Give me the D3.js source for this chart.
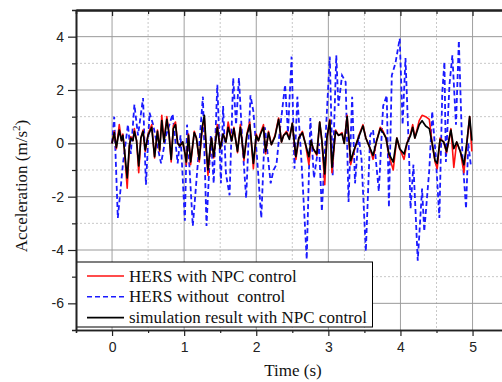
<!DOCTYPE html>
<html>
<head>
<meta charset="utf-8">
<script src="https://cdn.jsdelivr.net/npm/d3@7"></script>
<style>
    body { margin: 0; background: #fff; }
    svg { display: block; }
    .tick text { font-family: "Liberation Sans", Arial, sans-serif; font-size: 14px; fill: #222; }
    .serif { font-family: "Liberation Serif", "Times New Roman", serif; fill: #111; white-space: pre; }
</style>
</head>
<body>
<div class="chart"></div>
<script>

// HERS without control (blue dashed) - [time s, acceleration m/s2]
const blueData = [
    [0, 0], [0.03, 1.0], [0.08, -2.8], [0.15, -0.8], [0.22, 0.7], [0.26, -0.4], [0.31, 1.45],
    [0.36, 0.3], [0.43, 1.7], [0.47, -1.55], [0.52, 1.15], [0.57, 0.7], [0.62, 0.0], [0.68, -0.75],
    [0.75, 0.3], [0.84, 1.1], [0.91, -0.75], [0.95, 0.3], [1.01, -2.9], [1.04, 0.7], [1.12, -3.1],
    [1.2, -0.4], [1.26, 1.75], [1.31, -3.1], [1.37, 0.3], [1.41, -1.5], [1.46, 2.2], [1.51, -1.5],
    [1.54, 1.4], [1.58, -1.15], [1.63, -1.95], [1.68, 2.45], [1.72, 0.7], [1.76, 2.45], [1.81, -0.1],
    [1.86, -2.05], [1.92, 1.8], [1.96, 1.2], [2.01, -0.5], [2.07, -2.8], [2.12, 0.6], [2.2, -1.5],
    [2.24, -1.0], [2.28, -0.8], [2.32, 0.3], [2.4, 2.2], [2.44, 0.4], [2.49, 3.25], [2.53, -0.95],
    [2.57, 1.75], [2.63, -0.8], [2.7, -4.35], [2.75, 0.95], [2.8, -1.3], [2.87, 0.0], [2.91, -2.55],
    [2.98, 1.2], [3.02, 3.25], [3.06, -1.2], [3.11, 3.3], [3.14, 1.4], [3.19, 2.55], [3.24, 2.3],
    [3.28, -2.2], [3.33, 1.75], [3.37, -1.5], [3.42, 0.3], [3.46, -0.6], [3.52, -4.05], [3.58, 0.3],
    [3.62, 0.5], [3.7, -1.8], [3.76, 1.4], [3.81, 1.8], [3.84, -2.4], [3.88, 2.55], [3.93, 3.0],
    [3.99, 3.93], [4.03, 0.7], [4.07, 3.2], [4.12, -0.5], [4.14, -2.45], [4.18, -0.8], [4.24, -4.4],
    [4.3, -1.7], [4.33, -3.3], [4.4, -1.0], [4.44, 1.2], [4.49, -0.5], [4.54, -2.8], [4.58, 1.9],
    [4.61, 3.05], [4.63, -0.7], [4.68, 2.2], [4.72, 3.3], [4.77, 0.7], [4.81, 3.85], [4.86, -0.5],
    [4.91, -2.45], [4.94, 0.0], [4.98, -0.9]
]

// HERS with NPC control (red)
const redData = [
    [0, 0], [0.03, 0.45], [0.06, -0.2], [0.1, 0.7], [0.13, 0.1], [0.15, 0.35], [0.17, -0.2],
    [0.21, -1.68], [0.24, -0.1], [0.26, 0.25], [0.29, 0.1], [0.31, 0.55], [0.34, 0.1], [0.37, -1.1],
    [0.4, 0.2], [0.43, 0.5], [0.46, -0.3], [0.5, 0.35], [0.55, 0.7], [0.59, -0.55], [0.63, 0.5],
    [0.66, -0.3], [0.69, 1.05], [0.72, 0.05], [0.76, 1.0], [0.79, 0.4], [0.82, -0.7], [0.85, 0.65],
    [0.88, 0.8], [0.91, 0.0], [0.94, -0.1], [0.98, 0.05], [1.01, -0.35], [1.03, -0.8], [1.06, 0.35],
    [1.09, -0.8], [1.14, 0.45], [1.17, 0.2], [1.21, -0.7], [1.25, 0.55], [1.28, 0.95], [1.31, -0.4],
    [1.33, -1.2], [1.36, -0.2], [1.38, 0.2], [1.41, -0.55], [1.46, 0.7], [1.5, -0.2], [1.54, 0.35],
    [1.58, 0.05], [1.61, 0.8], [1.66, 0.1], [1.69, 0.6], [1.74, -0.35], [1.78, 0.7], [1.83, -0.65],
    [1.87, 0.35], [1.91, 0.8], [1.96, -0.95], [2.0, 0.35], [2.03, 0.1], [2.06, 0.4], [2.1, 0.7],
    [2.13, -0.4], [2.17, 0.45], [2.21, -0.05], [2.26, 0.3], [2.31, 0.95], [2.35, 0.05], [2.38, 0.3],
    [2.42, 0.45], [2.46, 0.2], [2.5, 0.75], [2.55, -0.6], [2.59, 0.2], [2.64, 0.45], [2.68, 0.0],
    [2.73, -0.8], [2.76, 0.1], [2.79, -0.2], [2.84, -0.45], [2.88, 0.8], [2.91, 0.1], [2.95, -1.55],
    [2.98, 0.2], [3.02, 0.9], [3.05, -1.1], [3.1, 0.5], [3.14, 0.3], [3.19, 0.4], [3.22, 0.0],
    [3.26, 1.05], [3.31, -0.8], [3.35, -0.35], [3.39, 0.0], [3.43, 0.35], [3.48, 0.7], [3.52, 0.2],
    [3.58, -0.2], [3.62, -0.6], [3.67, 0.1], [3.72, 0.6], [3.76, 0.45], [3.8, 0.2], [3.84, -0.45],
    [3.9, -1.0], [3.95, 0.2], [3.99, -0.2], [4.05, -0.6], [4.09, 0.0], [4.14, 0.35], [4.17, 0.7],
    [4.2, 0.2], [4.26, 0.85], [4.3, 1.05], [4.35, 1.0], [4.4, 0.9], [4.44, 0.0], [4.48, -0.7],
    [4.51, -0.95], [4.55, 0.2], [4.6, 0.05], [4.64, -0.35], [4.7, 0.55], [4.74, -0.9], [4.78, 0.05],
    [4.83, -0.3], [4.88, -1.1], [4.92, 0.0], [4.96, 1.0], [4.99, -0.3]
]

// simulation result with NPC control (black)
const blackData = [
    [0, 0], [0.03, 0.4], [0.06, -0.15], [0.1, 0.5], [0.13, 0.1], [0.15, 0.3], [0.17, -0.2],
    [0.21, -1.3], [0.24, -0.1], [0.26, 0.2], [0.29, 0.1], [0.31, 0.45], [0.34, 0.1], [0.37, -0.85],
    [0.4, 0.2], [0.43, 0.45], [0.46, -0.25], [0.5, 0.3], [0.55, 0.6], [0.59, -0.5], [0.63, 0.45],
    [0.66, -0.25], [0.69, 0.85], [0.72, 0.05], [0.76, 0.9], [0.79, 0.35], [0.82, -0.6], [0.85, 0.55],
    [0.88, 0.7], [0.91, 0.0], [0.94, -0.1], [0.98, 0.05], [1.01, -0.35], [1.03, -0.7], [1.06, 0.3],
    [1.09, -0.7], [1.14, 0.4], [1.17, 0.2], [1.21, -0.6], [1.25, 0.6], [1.28, 1.05], [1.31, -0.3],
    [1.33, -1.0], [1.36, -0.2], [1.38, 0.2], [1.41, -0.5], [1.46, 0.6], [1.5, -0.2], [1.54, 0.35],
    [1.58, 0.05], [1.61, 0.6], [1.66, 0.1], [1.69, 0.55], [1.74, -0.3], [1.78, 0.6], [1.83, -0.55],
    [1.87, 0.3], [1.91, 0.7], [1.96, -0.75], [2.0, 0.3], [2.03, 0.1], [2.06, 0.35], [2.1, 0.6],
    [2.13, -0.3], [2.17, 0.4], [2.21, -0.05], [2.26, 0.25], [2.31, 0.9], [2.35, 0.05], [2.38, 0.3],
    [2.42, 0.4], [2.46, 0.15], [2.5, 0.75], [2.55, -0.5], [2.59, 0.2], [2.64, 0.4], [2.68, 0.0],
    [2.73, -0.5], [2.76, 0.1], [2.79, -0.2], [2.84, -0.4], [2.88, 0.8], [2.91, 0.1], [2.95, -1.15],
    [2.98, 0.2], [3.02, 0.85], [3.05, -0.9], [3.1, 0.45], [3.14, 0.3], [3.19, 0.35], [3.22, 0.0],
    [3.26, 1.0], [3.31, -0.65], [3.35, -0.3], [3.39, 0.0], [3.43, 0.3], [3.48, 0.65], [3.52, 0.2],
    [3.58, -0.2], [3.62, -0.45], [3.67, 0.1], [3.72, 0.55], [3.76, 0.4], [3.8, 0.2], [3.84, -0.4],
    [3.9, -0.7], [3.95, 0.2], [3.99, -0.2], [4.05, -0.4], [4.09, 0.0], [4.14, 0.3], [4.17, 0.6],
    [4.2, 0.2], [4.26, 0.7], [4.3, 0.85], [4.35, 0.65], [4.4, 0.55], [4.44, 0.0], [4.48, -0.65],
    [4.51, -0.75], [4.55, 0.15], [4.6, 0.05], [4.64, -0.3], [4.7, 0.5], [4.74, -0.2], [4.78, 0.05],
    [4.83, -0.3], [4.88, -0.8], [4.92, 0.0], [4.96, 1.0], [4.99, 0.1]
]

const xMajor = [0, 1, 2, 3, 4, 5]
const xMinor = [0.5, 1.5, 2.5, 3.5, 4.5]
const yMajor = [-6, -4, -2, 0, 2, 4]
const yMinor = [-5, -3, -1, 1, 3]

const legendLabels = ["HERS with NPC control", "HERS without  control", "simulation result with NPC control"]


function drawChart() {

    const width = 502
    const height = 382

    const svg = d3.select(".chart")
        .append("svg")
        .attr("width", width)
        .attr("height", height)

    const x = d3.scaleLinear([-0.5, 5.5], [76, 508.6])
    const y = d3.scaleLinear([-7, 5], [330, 10])

    // grid
    const grid = svg.append("g")

    grid.selectAll(".xminor")
        .data(xMinor)
        .join("line")
        .attr("x1", d => x(d)).attr("x2", d => x(d))
        .attr("y1", y(5)).attr("y2", y(-7))
        .attr("stroke", "#c8c8c8")
        .attr("stroke-dasharray", "2,2")

    grid.selectAll(".yminor")
        .data(yMinor)
        .join("line")
        .attr("x1", x(-0.5)).attr("x2", x(5.5))
        .attr("y1", d => y(d)).attr("y2", d => y(d))
        .attr("stroke", "#c8c8c8")
        .attr("stroke-dasharray", "2,2")

    grid.selectAll(".xmajor")
        .data(xMajor)
        .join("line")
        .attr("x1", d => x(d)).attr("x2", d => x(d))
        .attr("y1", y(5)).attr("y2", y(-7))
        .attr("stroke", "#a0a0a0")

    grid.selectAll(".ymajor")
        .data(yMajor)
        .join("line")
        .attr("x1", x(-0.5)).attr("x2", x(5.5))
        .attr("y1", d => y(d)).attr("y2", d => y(d))
        .attr("stroke", "#999")

    // series
    const line = d3.line()
        .x(d => x(d[0]))
        .y(d => y(d[1]))

    svg.append("path")
        .datum(blueData)
        .attr("d", line)
        .attr("fill", "none")
        .attr("stroke", "#1a1aff")
        .attr("stroke-width", 1.8)
        .attr("stroke-dasharray", "5,3")

    svg.append("path")
        .datum(redData)
        .attr("d", line)
        .attr("fill", "none")
        .attr("stroke", "#ff1010")
        .attr("stroke-width", 1.6)
        .attr("stroke-linejoin", "round")

    svg.append("path")
        .datum(blackData)
        .attr("d", line)
        .attr("fill", "none")
        .attr("stroke", "#000")
        .attr("stroke-width", 1.7)
        .attr("stroke-linejoin", "round")

    // legend
    const legend = svg.append("g")

    legend.append("rect")
        .attr("x", 76.5).attr("y", 262)
        .attr("width", 296).attr("height", 65)
        .attr("fill", "#fff")
        .attr("stroke", "#000")
        .attr("stroke-width", 1)

    const legendStyle = [
        { color: "#ff1010", dash: null },
        { color: "#1a1aff", dash: "5,3" },
        { color: "#000", dash: null }
    ]

    const rows = legend.selectAll(".row")
        .data(legendLabels)
        .join("g")
        .attr("transform", (d, i) => `translate(0,${276 + i * 20.8})`)

    rows.append("line")
        .attr("x1", 87).attr("x2", 124)
        .attr("stroke", (d, i) => legendStyle[i].color)
        .attr("stroke-width", 1.6)
        .attr("stroke-dasharray", (d, i) => legendStyle[i].dash)

    rows.append("text")
        .attr("class", "serif")
        .attr("x", 129)
        .attr("y", 5.5)
        .style("font-size", "17px")
        .text(d => d)

    // axes
    const axisLeft = d3.axisLeft(y).tickValues(yMajor).tickSize(8).tickPadding(4).tickSizeOuter(0)
        .tickFormat(d => d < 0 ? "-" + Math.abs(d) : d)
    const axisLeftMinor = d3.axisLeft(y).tickValues(yMinor).tickSize(4).tickFormat("")
    const axisBottom = d3.axisBottom(x).tickValues(xMajor).tickSize(6).tickPadding(6).tickSizeOuter(0)
        .tickFormat(d3.format("d"))
    const axisBottomMinor = d3.axisBottom(x).tickValues(xMinor).tickSize(3).tickFormat("")
    const axisTop = d3.axisTop(x).tickValues(xMajor).tickSize(-6).tickFormat("").tickSizeOuter(0)
    const axisTopMinor = d3.axisTop(x).tickValues(xMinor).tickSize(-4).tickFormat("")

    svg.append("g").attr("transform", `translate(${x(-0.5)},0)`).call(axisLeft)
    svg.append("g").attr("transform", `translate(${x(-0.5)},0)`).call(axisLeftMinor)
    svg.append("g").attr("transform", `translate(0,${y(-7)})`).call(axisBottom)
    svg.append("g").attr("transform", `translate(0,${y(-7)})`).call(axisBottomMinor)
    const gt = svg.append("g").attr("transform", `translate(0,${y(5)})`).call(axisTop)
    svg.append("g").attr("transform", `translate(0,${y(5)})`).call(axisTopMinor)

    svg.selectAll(".domain").attr("stroke", "#222").attr("stroke-width", 1.6)
    svg.selectAll(".tick line").attr("stroke", "#222").attr("stroke-width", 1.2)
    gt.select(".domain").attr("stroke-width", 2.4).attr("stroke", "#333")
    svg.selectAll(".tick text").attr("font-size", null).attr("font-family", null)

    // titles
    svg.append("text")
        .attr("class", "serif")
        .attr("x", 293)
        .attr("y", 376)
        .attr("text-anchor", "middle")
        .style("font-size", "17px")
        .text("Time (s)")

    const ytitle = svg.append("text")
        .attr("class", "serif")
        .attr("transform", "translate(27,186) rotate(-90)")
        .attr("text-anchor", "middle")
        .style("font-size", "17px")

    ytitle.append("tspan").text("Acceleration (m/s")
    ytitle.append("tspan").attr("dy", -7).style("font-size", "11px").text("2")
    ytitle.append("tspan").attr("dy", 7).text(")")

}

drawChart()
</script>
</body>
</html>
